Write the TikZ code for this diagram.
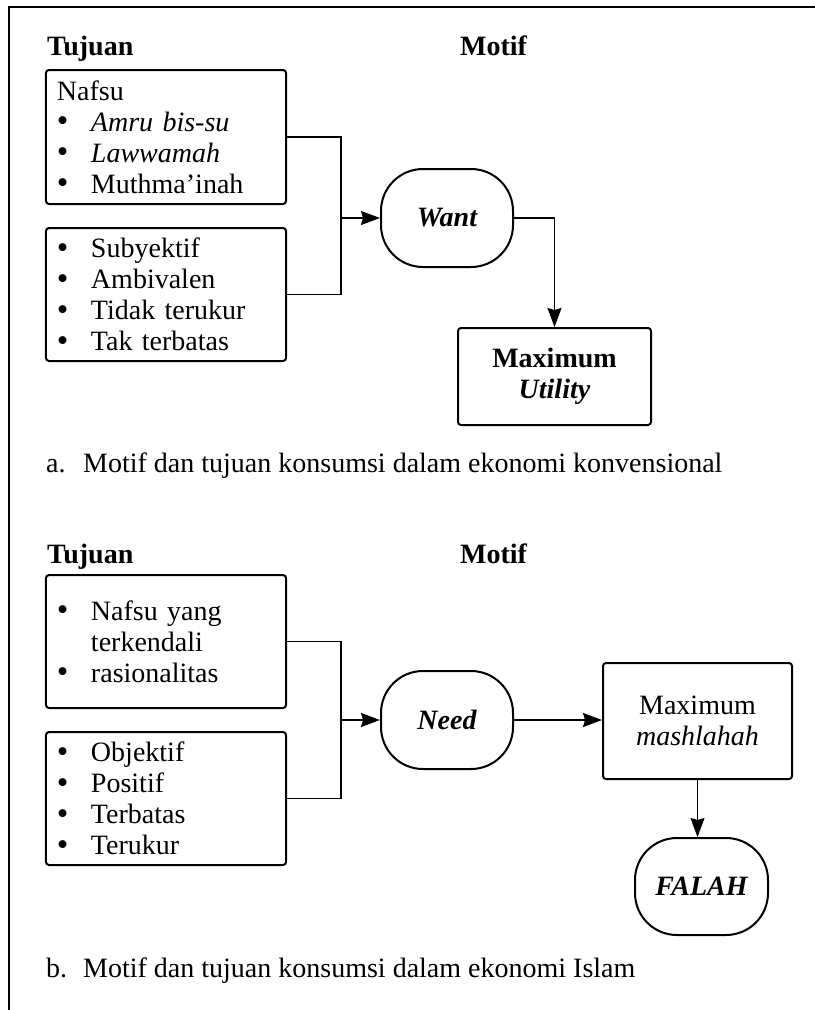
\documentclass[tikz,border=0pt]{standalone}
\usepackage{fontspec}
\setmainfont{Liberation Serif}
\usetikzlibrary{arrows.meta,calc}
\tikzset{
  txt/.style={font=\fontsize{28bp}{31bp}\selectfont, inner sep=0pt},
  listbox/.style={draw, line width=2bp, rounded corners=3bp, minimum width=240bp,
    text width=218bp, align=left, inner xsep=11bp, inner ysep=0pt,
    font=\fontsize{28bp}{31bp}\selectfont},
  pill/.style={draw, line width=2bp, rounded corners=42bp, minimum width=132bp,
    minimum height=98bp, inner sep=0pt, align=center,
    font=\fontsize{28bp}{31bp}\selectfont\bfseries\itshape},
  resbox/.style={draw, line width=2bp, rounded corners=3bp, inner sep=0pt, align=center,
    font=\fontsize{28bp}{31bp}\selectfont},
  conn/.style={line width=1.3bp},
  arr/.style={line width=1.3bp, -{Stealth[length=19bp,width=14bp,inset=2bp]}},
  frame/.style={line width=1.5bp}
}
\newcommand{\blt}{\makebox[34bp][l]{\raisebox{-0.5bp}[0pt][0pt]{\fontsize{33bp}{31bp}\selectfont\textbullet}}}
\begin{document}
\begin{tikzpicture}[x=1bp,y=-1bp]
\useasboundingbox (0,0) rectangle (815,1010);
\draw[frame] (815,7) -- (9,7) -- (9,1010);

% ---------- part a ----------
\node[txt, anchor=base west, font=\fontsize{28bp}{31bp}\selectfont\bfseries] (tja) at (47,55) {Tujuan};
\node[txt, anchor=base west, font=\fontsize{28bp}{31bp}\selectfont\bfseries] (mfa) at (460,55) {Motif};

\node[listbox, minimum height=134bp] (b1) at (166,137)
  {Nafsu\\ \blt\textit{Amru bis-su}\\ \blt\textit{Lawwamah}\\ \blt Muthma'inah};
\node[listbox, minimum height=133bp] (b2) at (166,294.5)
  {\blt Subyektif\\ \blt Ambivalen\\ \blt Tidak terukur\\ \blt Tak terbatas};

\node[pill] (want) at (447,218) {Want};
\node[resbox, minimum width=193bp, minimum height=97bp] (util) at (554.5,376.5)
  {\textbf{Maximum}\\ \textbf{\textit{Utility}}};

\coordinate (ja) at (341,218);
\draw[conn] (b1.east) -| (ja) |- (b2.east);
\draw[arr] (ja) -- (want.west);
\draw[arr] (want.east) -| (util.north);

\node[txt, anchor=base west] (capa) at (46,472)
  {\makebox[37bp][l]{a.}Motif dan tujuan konsumsi dalam ekonomi konvensional};

% ---------- part b ----------
\node[txt, anchor=base west, font=\fontsize{28bp}{31bp}\selectfont\bfseries] (tjb) at (47,563) {Tujuan};
\node[txt, anchor=base west, font=\fontsize{28bp}{31bp}\selectfont\bfseries] (mfb) at (460,563) {Motif};

\node[listbox, minimum height=133bp] (b3) at (166,641.5)
  {\blt Nafsu yang\\ \makebox[34bp]{}terkendali\\ \blt rasionalitas};
\node[listbox, minimum height=133bp] (b4) at (166,798.5)
  {\blt Objektif\\ \blt Positif\\ \blt Terbatas\\ \blt Terukur};

\node[pill] (need) at (447,720) {Need};
\node[resbox, minimum width=189bp, minimum height=116bp] (mash) at (697.5,721)
  {Maximum\\ \textit{mashlahah}};
\node[pill, minimum width=133bp, minimum height=97bp] (falah) at (701.5,886.5) {FALAH};

\coordinate (jb) at (341,720);
\draw[conn] (b3.east) -| (jb) |- (b4.east);
\draw[arr] (jb) -- (need.west);
\draw[arr] (need.east) -- (need.east -| mash.west);
\draw[arr] (mash.south) -- (mash.south |- falah.north);

\node[txt, anchor=base west] (capb) at (46,977)
  {\makebox[37bp][l]{b.}Motif dan tujuan konsumsi dalam ekonomi Islam};
\end{tikzpicture}
\end{document}
